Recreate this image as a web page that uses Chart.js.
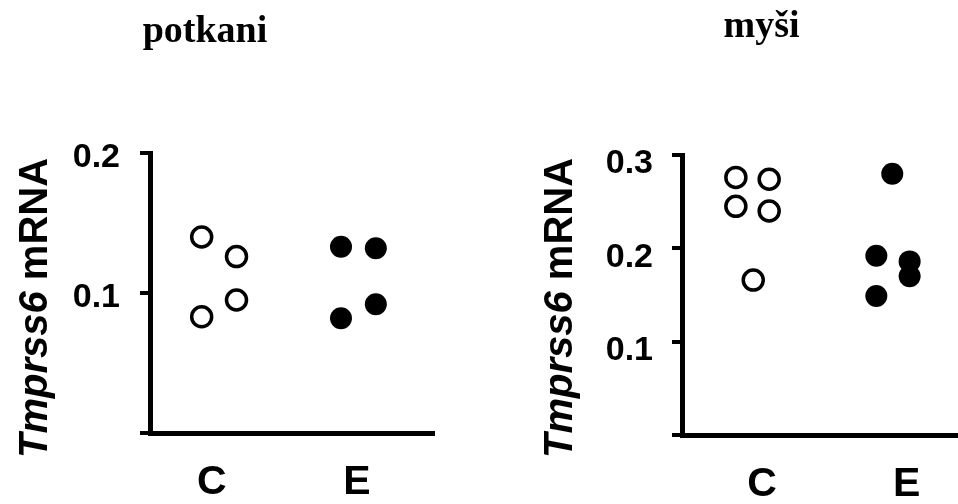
<!DOCTYPE html>
<html><head><meta charset="utf-8">
<script src="https://cdn.jsdelivr.net/npm/chart.js@4/dist/chart.umd.min.js"></script>
<style>html,body{margin:0;padding:0;background:#fff;} #wrap{position:relative;width:958px;height:504px;overflow:hidden;} canvas{position:absolute;top:0;}</style>
</head><body><div id="wrap"><canvas id="c1" width="480" height="504" style="left:0"></canvas><canvas id="c2" width="478" height="504" style="left:480px"></canvas></div>
<script>
// ---- data ----
const categories = ['C', 'E'];
const panelTitles = ['potkani', 'myši'];
const yLabelItalic = 'Tmprss6';
const yLabelRest = ' mRNA';
const ratTicks = [0, 0.1, 0.2];
const mouseTicks = [0, 0.1, 0.2, 0.3];

// rats (potkani): x = group position (C=1, E=2) with jitter, y = value
const ratControlX = [0.93, 1.17, 0.93, 1.17];
const ratControlY = [0.140, 0.126, 0.083, 0.095];
const ratExerciseX = [1.89, 2.13, 1.89, 2.13];
const ratExerciseY = [0.133, 0.132, 0.082, 0.092];

// mice (myši)
const mouseControlX = [0.82, 0.82, 1.05, 1.05, 0.94];
const mouseControlY = [0.276, 0.245, 0.274, 0.240, 0.166];
const mouseExerciseX = [1.90, 1.79, 1.79, 2.02, 2.02];
const mouseExerciseY = [0.280, 0.192, 0.149, 0.186, 0.170];

function pts(xs, ys) { return xs.map((x, i) => ({ x: x, y: ys[i] })); }

function textPlugin(title, tx, ty, lx, ly) {
  return {
    id: 'txt',
    afterDraw(chart) {
      const ctx = chart.ctx;
      ctx.save();
      ctx.fillStyle = '#000';
      ctx.font = 'bold 38px "Liberation Serif"';
      ctx.textAlign = 'center';
      ctx.textBaseline = 'alphabetic';
      ctx.fillText(title, tx, ty);
      ctx.translate(lx, ly);
      ctx.rotate(-Math.PI / 2);
      const f1 = 'italic bold 40px "Liberation Sans"', f2 = 'bold 40px "Liberation Sans"';
      ctx.font = f1; const w1 = ctx.measureText(yLabelItalic).width;
      ctx.font = f2; const w2 = ctx.measureText(yLabelRest).width;
      const start = -(w1 + w2) / 2;
      ctx.textAlign = 'left';
      ctx.font = f1; ctx.fillText(yLabelItalic, start, 0);
      ctx.font = f2; ctx.fillText(yLabelRest, start + w1, 0);
      ctx.restore();
    }
  };
}

function makeChart(id, cfg) {
  const tickFont = { family: 'Liberation Sans', weight: 'bold', size: 34 };
  const catFont = { family: 'Liberation Sans', weight: 'bold', size: 41 };
  return new Chart(document.getElementById(id), {
    type: 'scatter',
    data: {
      datasets: [
        { data: pts(cfg.cx, cfg.cy), pointStyle: 'circle', pointRadius: 10, pointBackgroundColor: '#fff', pointBorderColor: '#000', pointBorderWidth: 3.5, showLine: false, clip: false },
        { data: pts(cfg.ex, cfg.ey), pointStyle: 'circle', pointRadius: 11, pointBackgroundColor: '#000', pointBorderColor: '#000', pointBorderWidth: 0, showLine: false, clip: false }
      ]
    },
    options: {
      responsive: false,
      animation: false,
      events: [],
      layout: { padding: { left: 0, right: cfg.padRight, top: cfg.padTop, bottom: 0 }, autoPadding: false },
      plugins: { legend: { display: false }, tooltip: { enabled: false }, title: { display: false } },
      scales: {
        x: {
          type: 'linear', min: cfg.xmin, max: cfg.xmax,
          afterBuildTicks: s => { s.ticks = categories.map((c, i) => ({ value: i + 1 })); },
          ticks: { callback: v => categories[Math.round(v) - 1] || '', font: catFont, color: '#000', padding: 25, maxRotation: 0, autoSkip: false },
          grid: { drawOnChartArea: false, drawTicks: false, lineWidth: 5, color: '#000' },
          border: { display: true, color: '#000', width: 5 },
          afterFit: s => { s.height = cfg.xHeight; s.paddingLeft = 0; s.paddingRight = 0; }
        },
        y: {
          type: 'linear', min: 0, max: cfg.ymax,
          afterBuildTicks: s => { s.ticks = cfg.yticks.map(v => ({ value: v })); },
          ticks: { callback: v => v === 0 ? '' : v.toFixed(1), font: tickFont, color: '#000', padding: cfg.tickPad, labelOffset: cfg.labelOffset },
          grid: { drawOnChartArea: false, drawTicks: true, tickLength: 10, lineWidth: 4, color: '#000' },
          border: { display: true, color: '#000', width: 5 },
          afterFit: s => { s.width = cfg.yWidth; s.paddingTop = 0; s.paddingBottom = 0; }
        }
      }
    },
    plugins: [textPlugin(cfg.title, cfg.tx, cfg.ty, cfg.lx, cfg.ly)]
  });
}

makeChart('c1', {
  cx: ratControlX, cy: ratControlY, ex: ratExerciseX, ey: ratExerciseY,
  xmin: 0.574, xmax: 2.517, ymax: 0.2, yticks: ratTicks,
  padRight: 48, padTop: 153, xHeight: 71, yWidth: 150, tickPad: 20, labelOffset: 5,
  title: panelTitles[0], tx: 205, ty: 42, lx: 47, ly: 308
});
makeChart('c2', {
  cx: mouseControlX, cy: mouseControlY, ex: mouseExerciseX, ey: mouseExerciseY,
  xmin: 0.448, xmax: 2.354, ymax: 0.3, yticks: mouseTicks,
  padRight: 0, padTop: 155, xHeight: 69, yWidth: 202, tickPad: 19, labelOffset: 9,
  title: panelTitles[1], tx: 281.5, ty: 37, lx: 92, ly: 308
});
</script>
</body></html>
